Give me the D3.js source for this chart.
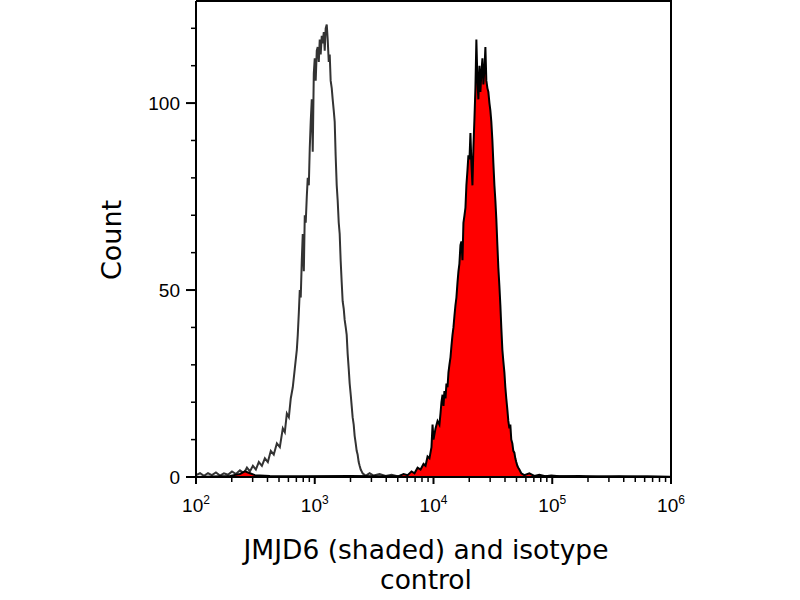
<!DOCTYPE html>
<html>
<head>
<meta charset="utf-8">
<script src="https://cdn.jsdelivr.net/npm/d3@7"></script>
<style>
  body { margin: 0; background: #fff; }
  svg { display: block; }
</style>
</head>
<body>
<script>
// histogram points: [log10 fluorescence, count]
const isotype = [
  [2.000,0.5],[2.034,1],[2.067,0.3],[2.101,1],[2.134,0.5],[2.168,1.2],[2.202,0.4],[2.235,1],
  [2.269,0.6],[2.303,1.5],[2.336,0.8],[2.370,1.8],[2.403,1],[2.429,2.5],[2.454,1.5],[2.479,3],
  [2.504,2],[2.529,4],[2.555,3],[2.580,5],[2.605,4],[2.630,7],[2.655,6],[2.681,9],[2.706,8],
  [2.731,13],[2.748,12],[2.765,17],[2.782,16],[2.798,21],[2.815,24],[2.832,29],[2.849,34],
  [2.857,38],[2.866,44],[2.874,50],[2.882,48],[2.891,58],[2.899,65],[2.908,55],[2.916,70],
  [2.924,68],[2.933,75],[2.941,80],[2.950,78],[2.958,88],[2.966,95],[2.975,101],[2.983,87],
  [2.992,108],[3.000,112],[3.008,106],[3.017,114],[3.025,115],[3.034,111],[3.042,117],
  [3.050,113],[3.059,118],[3.067,116],[3.076,119],[3.084,114],[3.092,120],[3.101,121],
  [3.109,117],[3.118,111],[3.126,113],[3.134,106],[3.143,104],[3.151,101],[3.160,98],
  [3.168,95],[3.176,86],[3.185,78],[3.193,74],[3.202,68],[3.210,65],[3.218,58],[3.227,52],
  [3.235,47],[3.244,45],[3.252,42],[3.261,40],[3.269,38],[3.277,33],[3.286,29],[3.294,25],
  [3.303,22],[3.311,19],[3.319,16],[3.328,14],[3.336,11],[3.345,9],[3.353,7],[3.361,6],
  [3.370,4],[3.378,3],[3.387,2],[3.395,1.5],[3.403,1],[3.429,0.3],[3.462,1],[3.496,0.4],
  [3.546,0.8],[3.597,0.3],[3.647,0.6],[3.697,0.2],[3.748,0.5],[3.798,0.3],[3.849,0.6],
  [3.899,0.2],[3.950,0.4],[4.000,0.3],[4.100,0.2],[4.200,0.4],[4.300,0.1],[4.400,0.3],
  [4.500,0.2],[4.600,0.3],[4.700,0.1],[4.800,0.2],[5.000,0.3],[5.200,0.1],[5.400,0.2],
  [5.600,0.1],[5.800,0.2],[6.000,0.1]
];

const jmjd6 = [
  [2.000,0],[2.286,0.3],[2.370,0.8],[2.412,1.5],[2.454,1],[2.496,0.5],[2.622,0.3],[2.874,0.2],
  [3.294,0.3],[3.546,0.2],[3.714,0.3],[3.748,0.8],[3.782,0.5],[3.815,1.5],[3.840,1],
  [3.866,2.5],[3.891,2],[3.916,3.5],[3.933,3],[3.950,5.5],[3.966,5],[3.983,8],[3.992,14],
  [4.000,10],[4.017,13],[4.034,15],[4.050,14],[4.059,17],[4.067,20],[4.076,22],[4.084,19],
  [4.092,23],[4.101,21],[4.109,25],[4.118,24],[4.126,28],[4.134,30],[4.143,32],[4.151,35],
  [4.160,38],[4.168,40],[4.176,43],[4.185,46],[4.193,48],[4.202,52],[4.210,55],[4.218,57],
  [4.227,62],[4.235,63],[4.244,58],[4.252,68],[4.261,70],[4.269,72],[4.277,78],[4.286,82],
  [4.294,86],[4.303,85],[4.311,92],[4.319,84],[4.328,78],[4.336,88],[4.345,96],[4.353,104],
  [4.361,117],[4.370,106],[4.378,101],[4.387,110],[4.395,103],[4.403,108],[4.412,112],
  [4.420,105],[4.429,109],[4.437,115],[4.445,106],[4.454,104],[4.462,103],[4.471,100],
  [4.479,98],[4.487,95],[4.496,90],[4.504,84],[4.513,78],[4.521,74],[4.529,69],[4.538,62],
  [4.546,56],[4.555,51],[4.563,46],[4.571,40],[4.580,34],[4.588,31],[4.597,28],[4.605,24],
  [4.613,21],[4.622,18],[4.630,15],[4.639,13],[4.647,14],[4.655,10],[4.664,9],[4.672,7],
  [4.681,6.5],[4.689,5],[4.697,4],[4.706,3],[4.714,2.5],[4.723,2],[4.739,1],[4.765,0.5],
  [4.807,1],[4.849,0.3],[4.891,0.6],[4.941,0.2],[4.992,0.4],[5.059,0.2],[5.227,0.3],
  [5.395,0.1],[5.563,0.2],[5.815,0.1],[6.000,0]
];

const xDecades = [1e2, 1e3, 1e4, 1e5, 1e6];
const xExponents = ["2", "3", "4", "5", "6"];
const yMajor = [0, 50, 100];
const yMinor = [10, 20, 30, 40, 60, 70, 80, 90, 110, 120];

const xTitle = ["JMJD6 (shaded) and isotype", "control"];
const yTitle = "Count";

const width = 800, height = 600;
const margin = { left: 196, right: 129, top: 1, bottom: 123 };

const svg = d3.select("body").append("svg")
  .attr("width", width)
  .attr("height", height);

const x = d3.scaleLog()
  .domain([1e2, 1e6])
  .range([margin.left, width - margin.right]);

const y = d3.scaleLinear()
  .domain([0, 127.3])
  .range([height - margin.bottom, margin.top]);

const px = d => x(Math.pow(10, d[0]));
const py = d => y(d[1]);

// isotype control: outline only
svg.append("path")
  .datum(isotype)
  .attr("fill", "none")
  .attr("stroke", "#333")
  .attr("stroke-width", 2)
  .attr("d", d3.line().x(px).y(py));

// JMJD6: red shaded with black outline
svg.append("path")
  .datum(jmjd6)
  .attr("fill", "#ff0000")
  .attr("stroke", "none")
  .attr("d", d3.area().x(px).y0(y(0)).y1(py));

svg.append("path")
  .datum(jmjd6)
  .attr("fill", "none")
  .attr("stroke", "#000")
  .attr("stroke-width", 2)
  .attr("d", d3.line().x(px).y(py));

// frame: top and right
svg.append("path")
  .attr("fill", "none")
  .attr("stroke", "#000")
  .attr("stroke-width", 2)
  .attr("d", `M${x(1e2)},${y.range()[1]}H${x(1e6)}V${y(0)}`);

// x axis
const xMinor = [];
xDecades.slice(0, -1).forEach(d => {
  for (let k = 2; k <= 9; k++) xMinor.push(d * k);
});

const gx = svg.append("g")
  .attr("transform", `translate(0,${y(0)})`);

gx.append("line")
  .attr("x1", x(1e2)).attr("x2", x(1e6))
  .attr("stroke", "#000").attr("stroke-width", 2);

gx.selectAll(".minor")
  .data(xMinor)
  .join("line")
  .attr("class", "minor")
  .attr("x1", d => x(d)).attr("x2", d => x(d))
  .attr("y1", 0).attr("y2", 5)
  .attr("stroke", "#000").attr("stroke-width", 1.5);

gx.selectAll(".major")
  .data(xDecades)
  .join("line")
  .attr("class", "major")
  .attr("x1", d => x(d)).attr("x2", d => x(d))
  .attr("y1", 0).attr("y2", 7)
  .attr("stroke", "#000").attr("stroke-width", 2);

const xl = gx.selectAll(".xlab")
  .data(xDecades)
  .join("text")
  .attr("class", "xlab")
  .attr("x", d => x(d))
  .attr("y", 35)
  .attr("text-anchor", "middle")
  .style("font-family", "Liberation Sans, Arial, sans-serif")
  .style("font-size", "19px")
  .attr("fill", "#000");
xl.append("tspan").text("10");
xl.append("tspan")
  .attr("dy", -8)
  .style("font-size", "12px")
  .text((d, i) => xExponents[i]);

// y axis
const gy = svg.append("g")
  .attr("transform", `translate(${x(1e2)},0)`);

gy.append("line")
  .attr("y1", y.range()[1]).attr("y2", y(0) + 7)
  .attr("stroke", "#000").attr("stroke-width", 2);

gy.selectAll(".minor")
  .data(yMinor)
  .join("line")
  .attr("class", "minor")
  .attr("y1", d => y(d)).attr("y2", d => y(d))
  .attr("x1", 0).attr("x2", -5)
  .attr("stroke", "#000").attr("stroke-width", 1.5);

gy.selectAll(".major")
  .data(yMajor)
  .join("line")
  .attr("class", "major")
  .attr("y1", d => y(d)).attr("y2", d => y(d))
  .attr("x1", 0).attr("x2", -10)
  .attr("stroke", "#000").attr("stroke-width", 2);

gy.selectAll(".ylab")
  .data(yMajor)
  .join("text")
  .attr("class", "ylab")
  .attr("x", -16)
  .attr("y", d => y(d))
  .attr("dy", "0.35em")
  .attr("text-anchor", "end")
  .style("font-family", "Liberation Sans, Arial, sans-serif")
  .style("font-size", "19px")
  .attr("fill", "#000")
  .text(d => d);

// titles
svg.append("text")
  .attr("text-anchor", "middle")
  .attr("transform", "translate(121,240) rotate(-90)")
  .style("font-family", "DejaVu Sans, Verdana, sans-serif")
  .style("font-size", "27px")
  .attr("fill", "#000")
  .text(yTitle);

svg.selectAll(".xtitle")
  .data(xTitle)
  .join("text")
  .attr("class", "xtitle")
  .attr("x", 426)
  .attr("y", (d, i) => 559 + i * 30)
  .attr("text-anchor", "middle")
  .style("font-family", "DejaVu Sans, Verdana, sans-serif")
  .style("font-size", "26.5px")
  .attr("fill", "#000")
  .text(d => d);
</script>
</body>
</html>
